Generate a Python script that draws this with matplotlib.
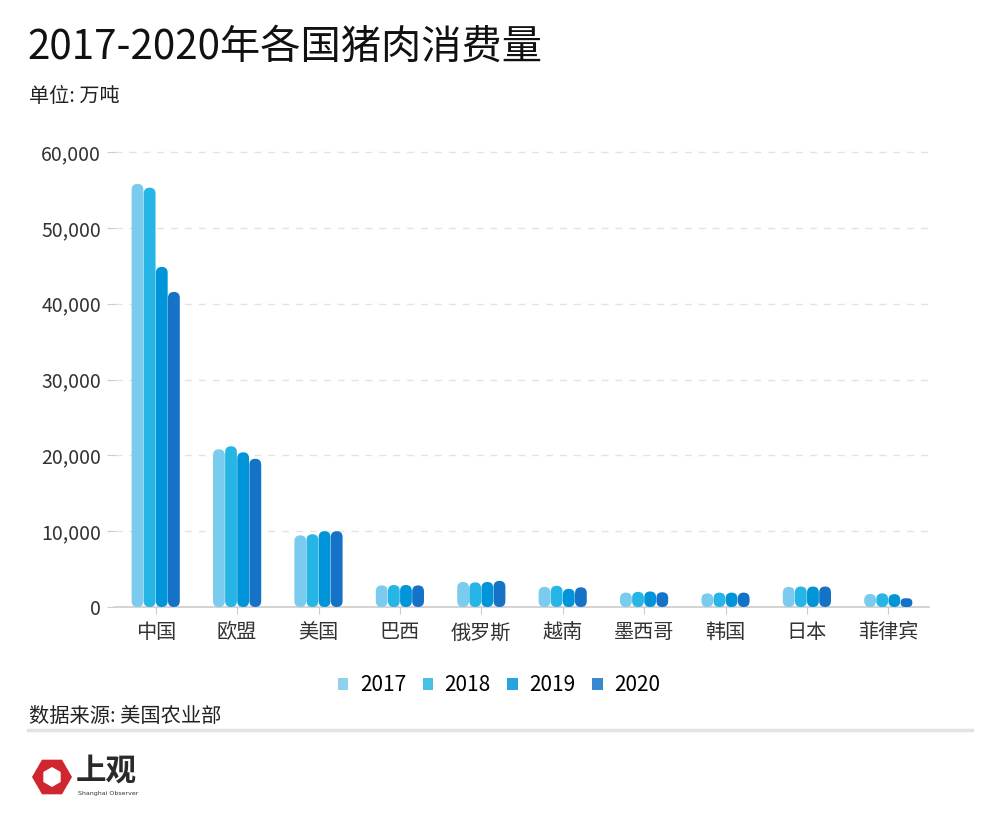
import numpy as np
import matplotlib
matplotlib.use("Agg")
import matplotlib.pyplot as plt
from matplotlib.patches import FancyBboxPatch, Patch, Polygon

plt.rcParams['font.family'] = ['Noto Sans CJK SC', 'DejaVu Sans']

countries = ["中国", "欧盟", "美国", "巴西", "俄罗斯", "越南", "墨西哥", "韩国", "日本", "菲律宾"]
years = ["2017", "2018", "2019", "2020"]
v2017 = [55800, 20800, 9450, 2850, 3300, 2650, 1900, 1800, 2650, 1720]
v2018 = [55300, 21200, 9600, 2900, 3250, 2800, 2000, 1900, 2700, 1800]
v2019 = [44850, 20400, 10000, 2900, 3300, 2400, 2050, 1900, 2700, 1700]
v2020 = [41550, 19550, 10000, 2850, 3450, 2600, 1950, 1900, 2700, 1150]
series = [v2017, v2018, v2019, v2020]
colors = ["#7acbee", "#27b5e5", "#0094d9", "#1473c7"]
yticks = [0, 10000, 20000, 30000, 40000, 50000, 60000]

W, H = 1000, 822
fig = plt.figure(figsize=(10, 8.22), dpi=100)

def fx(x):
    return x / W

def fy(y):
    return 1 - y / H

# axes: x from 115 to 929 px, y=0 at 607 px, 60000 at 152 px
y_top_val = 61000
px_per_unit = (607 - 152) / 60000
top_px = 607 - y_top_val * px_per_unit
ax = fig.add_axes([fx(115), fy(607), (929 - 115) / W, (607 - top_px) / H])
ax.set_xlim(-0.5, len(countries) - 0.5)
ax.set_ylim(0, y_top_val)

for s in ["top", "right", "left"]:
    ax.spines[s].set_visible(False)
ax.spines["bottom"].set_color("#cccccc")
ax.spines["bottom"].set_linewidth(1.2)

ax.set_yticks(yticks)
ax.set_yticklabels([f"{v:,}" for v in yticks], fontsize=14, color="#333333")
ax.tick_params(axis="y", length=6, color="#cccccc", pad=4)
ax.set_xticks(range(len(countries)))
ax.set_xticklabels(countries, fontsize=14.5, color="#333333")
ax.tick_params(axis="x", length=5, color="#cccccc", pad=6)
for v in yticks[1:]:
    ax.axhline(v, color="#e3e3e3", lw=1, ls=(0, (5, 5)), zorder=0, clip_on=False)

# rounded bars
band_px = (929 - 115) / len(countries)
xdata_per_px = 1 / band_px
ydata_per_px = 1 / px_per_unit
aspect = ydata_per_px / xdata_per_px
bw = 0.145
step = 0.149
for j, vals in enumerate(series):
    off = (j - 1.5) * step
    for i, v in enumerate(vals):
        r = min(bw / 2, v / aspect / 2)
        p = FancyBboxPatch((i + off - bw / 2, 0), bw, v,
                           boxstyle=f"round,pad=0,rounding_size={r}",
                           mutation_aspect=aspect, fc=colors[j], ec="none", zorder=3)
        ax.add_patch(p)

# title etc.
fig.text(fx(27), fy(47), "2017-2020年各国猪肉消费量", fontsize=29, color="#111111", va="center")
fig.text(fx(29), fy(97), "单位: 万吨", fontsize=14.5, color="#222222", va="center")

handles = [Patch(fc=c, ec="none", alpha=0.85) for c in colors]
fig.legend(handles, years, loc="center", bbox_to_anchor=(fx(499), fy(685)), ncol=4,
           frameon=False, fontsize=15, handlelength=0.5, handleheight=0.5,
           handletextpad=0.55, columnspacing=0.8)

fig.text(fx(29), fy(716), "数据来源: 美国农业部", fontsize=14.6, color="#222222", va="center")
fig.add_artist(plt.Line2D([fx(28), fx(972)], [fy(730), fy(730)], color="#e2e2e2", lw=2.5))

# logo
cx, cy, R = 52, 777, 20
ang = np.deg2rad(np.arange(0, 360, 60))
outer = [(fx(cx + R * np.cos(a)), fy(cy + R * np.sin(a))) for a in ang]
fig.add_artist(Polygon(outer, closed=True, fc="#d0262e", ec="none", transform=fig.transFigure))
ang2 = np.deg2rad(np.arange(0, 360, 60) + 90)
inner = [(fx(cx + 10 * np.cos(a)), fy(cy + 10 * np.sin(a))) for a in ang2]
fig.add_artist(Polygon(inner, closed=True, fc="white", ec="none", transform=fig.transFigure))
fig.text(fx(76), fy(771), "上观", fontsize=22, fontweight="bold", color="#2a2a2a", va="center")
fig.text(fx(78), fy(793), "Shanghai Observer", fontsize=4.5, color="#333333", va="center",
         family="DejaVu Sans")

fig.savefig("out.png", dpi=100, facecolor="white")
